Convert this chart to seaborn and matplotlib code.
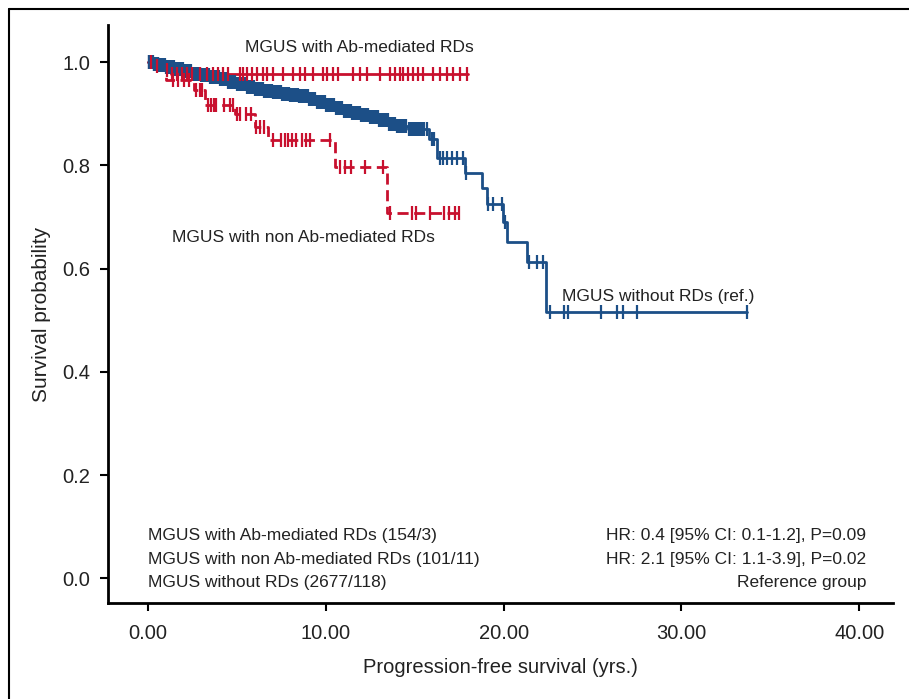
import numpy as np
import pandas as pd
import matplotlib
matplotlib.use("Agg")
import matplotlib.pyplot as plt
import seaborn as sns
from matplotlib.lines import Line2D

# Kaplan-Meier curves (time in years, survival after step)
no_rd_times = [0.0, 0.3, 0.6, 1.0, 1.5, 2.0, 2.5, 3.0, 3.5, 4.0, 4.5, 5.0, 5.5, 6.0,
               6.5, 7.0, 7.5, 8.0, 8.5, 9.0, 9.5, 10.0, 10.5, 11.0, 11.5, 12.0, 12.5,
               13.0, 13.5, 14.0, 14.6, 15.8, 16.25, 17.85, 18.8, 19.05, 19.95, 20.2,
               21.3, 22.4, 33.7]
no_rd_surv = [1.0, 0.997, 0.994, 0.99, 0.986, 0.982, 0.978, 0.975, 0.971, 0.967, 0.962,
              0.957, 0.952, 0.948, 0.945, 0.942, 0.939, 0.937, 0.934, 0.928, 0.922, 0.917,
              0.912, 0.906, 0.902, 0.898, 0.893, 0.887, 0.881, 0.876, 0.870, 0.851, 0.814,
              0.786, 0.757, 0.726, 0.690, 0.651, 0.613, 0.516, 0.516]
no_rd_cens = [0.05, 0.1, 0.15, 0.2, 0.25, 0.32, 0.4, 0.45, 0.5, 0.58, 0.65, 0.7, 0.8, 0.9,
              0.95, 1.05, 1.15, 1.25, 1.3, 1.4, 1.5, 1.6, 1.7, 1.8, 1.9, 2.0, 2.1, 2.25,
              2.35, 2.5, 2.6, 2.75, 2.85, 3.0, 3.1, 3.25, 3.4, 3.5, 3.65, 3.8, 3.9, 4.05,
              4.2, 4.3, 4.45, 4.6, 4.7, 4.85, 5.0, 5.1, 5.25, 5.4, 5.55, 5.7, 5.8, 5.95,
              6.1, 6.25, 6.4, 6.5, 6.65, 6.8, 6.95, 7.1, 7.25, 7.4, 7.55, 7.7, 7.85, 8.0,
              8.15, 8.3, 8.45, 8.6, 8.75, 8.9, 9.05, 9.2, 9.35, 9.5, 9.65, 9.8, 9.95,
              10.1, 10.25, 10.4, 10.55, 10.7, 10.85, 11.0, 11.2, 11.35, 11.5, 11.65, 11.8,
              12.0, 12.15, 12.3, 12.5, 12.7, 12.85, 13.0, 13.2, 13.4, 13.55, 13.7, 13.9,
              14.1, 14.3, 14.5, 14.7, 14.9, 15.1, 15.3, 15.5, 15.7, 15.95, 16.1, 16.4,
              16.6, 16.8, 17.1, 17.4, 17.7, 17.9, 19.1, 19.4, 19.9, 20.1, 21.4, 21.9,
              22.2, 22.6, 23.4, 23.6, 25.5, 26.4, 26.7, 27.5, 33.7,
              0.07, 0.12, 0.18, 0.28, 0.36, 0.55, 0.62, 0.75, 0.85, 1.0, 1.1, 1.2, 1.35,
              1.45, 1.55, 1.65, 1.75, 1.85, 1.95, 2.05, 2.18, 2.3, 2.42, 2.55, 2.68, 2.8,
              2.93, 3.05, 3.18, 3.32, 3.45, 3.58, 3.72, 3.85, 3.98, 4.12, 4.25, 4.38, 4.52,
              4.65, 4.78, 4.92, 5.05, 5.18, 5.32, 5.48, 5.62, 5.75, 5.88, 6.02, 6.18, 6.32,
              6.45, 6.58, 6.72, 6.88, 7.02, 7.18, 7.32, 7.48, 7.62, 7.78, 7.92, 8.08, 8.22,
              8.38, 8.52, 8.68, 8.82, 8.98, 9.12, 9.28, 9.42, 9.58, 9.72, 9.88, 10.02,
              10.18, 10.32, 10.48, 10.62, 10.78, 10.92, 11.1, 11.28, 11.42, 11.58, 11.72,
              11.9, 12.08, 12.22, 12.4, 12.6, 12.78, 12.92, 13.1, 13.3, 13.48, 13.62,
              13.8, 14.0, 14.2, 14.4, 14.8, 15.0, 15.2, 15.4]

ab_times = [0.0, 0.3, 0.8, 1.3, 18.0]
ab_surv = [1.0, 0.993, 0.985, 0.978, 0.978]
ab_cens = [0.15, 0.5, 1.05, 1.33, 1.61, 1.9, 2.17, 2.45, 2.92, 3.3, 3.67, 3.96, 4.24,
           4.52, 5.17, 5.36, 5.55, 5.83, 6.11, 6.49, 6.68, 7.05, 7.61, 8.17, 8.55, 8.83,
           9.3, 9.86, 10.05, 10.42, 10.7, 11.55, 11.92, 12.3, 13.05, 13.61, 13.89,
           14.17, 14.36, 14.64, 14.92, 15.2, 15.48, 16.05, 16.42, 16.8, 17.17, 17.55,
           17.92]

non_ab_times = [0.0, 0.4, 1.0, 2.6, 3.2, 4.9, 6.0, 6.75, 10.5, 13.45, 17.5]
non_ab_surv = [1.0, 0.987, 0.966, 0.947, 0.917, 0.900, 0.875, 0.850, 0.797, 0.708, 0.708]
non_ab_cens = [1.4, 1.7, 2.0, 2.3, 2.7, 2.9, 3.05, 3.4, 3.55, 3.7, 3.85, 4.3, 4.6, 4.8,
               5.0, 5.2, 5.5, 5.8, 6.1, 6.3, 6.55, 7.05, 7.5, 7.7, 7.9, 8.1, 8.35, 8.65,
               8.9, 9.1, 10.25, 10.8, 11.1, 11.4, 12.2, 13.2, 13.6, 14.85, 15.1, 15.85,
               16.65, 16.95, 17.25, 17.5]

group_labels = ["MGUS with Ab-mediated RDs (154/3)",
                "MGUS with non Ab-mediated RDs (101/11)",
                "MGUS without RDs (2677/118)"]
hr_labels = ["HR: 0.4 [95% CI: 0.1-1.2], P=0.09",
             "HR: 2.1 [95% CI: 1.1-3.9], P=0.02",
             "Reference group"]
x_ticks = [0, 10, 20, 30, 40]
y_ticks = [0.0, 0.2, 0.4, 0.6, 0.8, 1.0]

BLUE = "#1c4f87"
RED = "#c8102e"

sns.set_style("ticks")
plt.rcParams["font.family"] = ["Liberation Sans", "DejaVu Sans"]


def km_frame(times, surv):
    return pd.DataFrame({"time": times, "surv": surv})


def cens_frame(times, surv, cens):
    cens = np.sort(cens)
    idx = np.searchsorted(times, cens, side="right") - 1
    return pd.DataFrame({"time": cens, "surv": np.asarray(surv)[idx]})


fig = plt.figure(figsize=(9.09, 6.99), dpi=100)
ax = fig.add_axes([108 / 909, 1 - 603 / 699, (893 - 108) / 909, (603 - 25) / 699])

curves = [
    (no_rd_times, no_rd_surv, no_rd_cens, BLUE, "-"),
    (non_ab_times, non_ab_surv, non_ab_cens, RED, (0, (4, 2))),
    (ab_times, ab_surv, ab_cens, RED, "-"),
]
for times, surv, cens, col, ls in curves:
    sns.lineplot(data=km_frame(times, surv), x="time", y="surv", ax=ax,
                 drawstyle="steps-post", color=col, linewidth=2, linestyle=ls,
                 estimator=None, sort=False)
    sns.scatterplot(data=cens_frame(times, surv, cens), x="time", y="surv", ax=ax,
                    marker="|", s=100, color=col, linewidth=1.6, zorder=3)

ax.set_xlim(-2.25, 41.9)
ax.set_ylim(-0.048, 1.072)
ax.set_xticks(x_ticks)
ax.set_xticklabels([f"{t:.2f}" for t in x_ticks])
ax.set_yticks(y_ticks)
ax.set_yticklabels([f"{t:.1f}" for t in y_ticks])
ax.tick_params(axis="both", labelsize=14.5, length=6, width=1.5, color="black",
               labelcolor="#222222", pad=7)
ax.tick_params(axis="x", pad=9)
for side in ["top", "right"]:
    ax.spines[side].set_visible(False)
for side in ["left", "bottom"]:
    ax.spines[side].set_linewidth(2)
    ax.spines[side].set_color("black")

ax.set_xlabel("Progression-free survival (yrs.)", fontsize=14.5,
              color="#222222", labelpad=11)
ax.set_ylabel("Survival probability", fontsize=15,
              color="#222222", labelpad=8)

txt = dict(fontsize=12.5, color="#222222")
ax.text(5.45, 1.029, "MGUS with Ab-mediated RDs", va="center", **txt)
ax.text(1.35, 0.661, "MGUS with non Ab-mediated RDs", va="center", **txt)
ax.text(23.3, 0.545, "MGUS without RDs (ref.)", va="center", **txt)

for i, (g, hr) in enumerate(zip(group_labels, hr_labels)):
    yy = 0.083 - i * 0.046
    ax.text(0, yy, g, va="center", ha="left", **txt)
    ax.text(40.4, yy, hr, va="center", ha="right", **txt)

# outer frame around the panel
fig.add_artist(Line2D([9 / 909, 9 / 909], [0, 1 - 9 / 699], color="black", lw=1.5,
                      transform=fig.transFigure))
fig.add_artist(Line2D([9 / 909, 1], [1 - 9 / 699, 1 - 9 / 699], color="black", lw=1.5,
                      transform=fig.transFigure))

fig.savefig("out.png", dpi=100)
